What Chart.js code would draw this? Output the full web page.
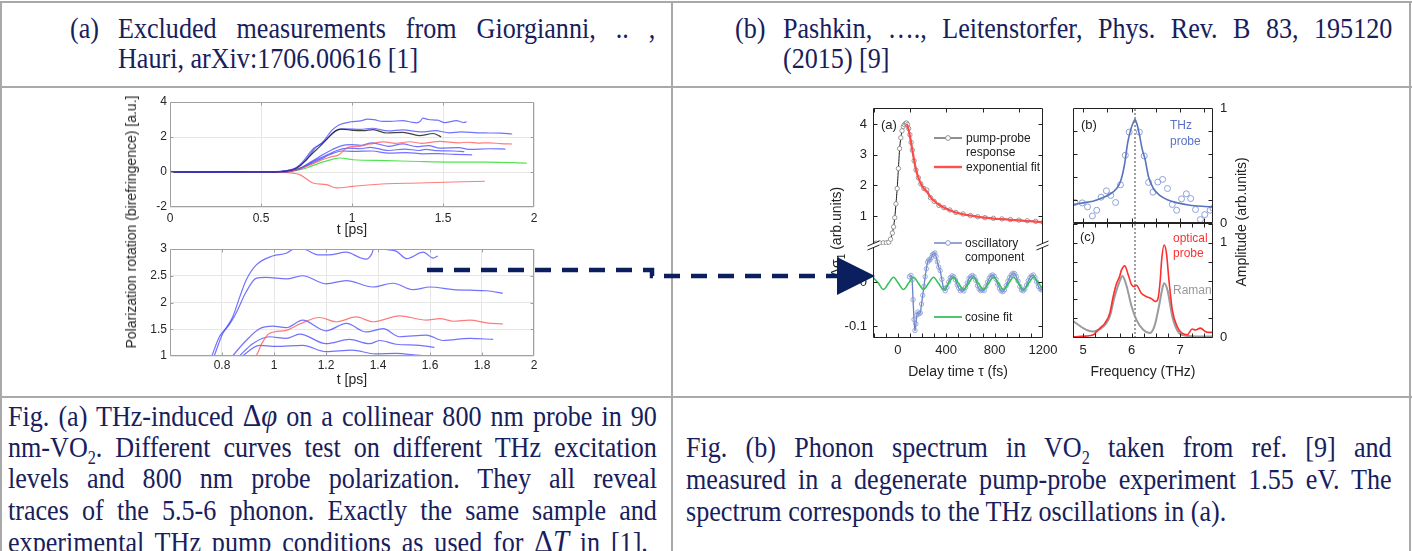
<!DOCTYPE html>
<html>
<head>
<meta charset="utf-8">
<script src="https://cdn.jsdelivr.net/npm/chart.js@4.4.1/dist/chart.umd.min.js"></script>
<style>
html, body { margin: 0; padding: 0; background: #fff; }
#page { position: relative; width: 1412px; height: 551px; overflow: hidden; background: #fff; }
#page canvas { position: absolute; }
.rule { position: absolute; background: #a9a9a9; }
.tx { position: absolute; font-family: 'Liberation Serif', 'Times New Roman', serif; font-size: 29px; line-height: 30px;
      color: #17205c; white-space: nowrap; transform-origin: 0 50%; transform: scaleX(0.9); }
.j { white-space: normal; text-align: justify; text-align-last: justify; }
.m { font-size: 32px; }
.sb { font-size: 18px; position: relative; top: 7px; line-height: 0; }
.an { position: absolute; font-family: 'Liberation Sans', Arial, sans-serif; font-size: 12px; line-height: 14px;
      color: #222; white-space: nowrap; transform: translateY(-50%); }
.rot { position: absolute; font-family: 'Liberation Sans', Arial, sans-serif; font-size: 14px; line-height: 16px;
       color: #222; white-space: nowrap; transform: translate(-50%, -50%) rotate(-90deg); }
#ov { position: absolute; left: 0; top: 0; }
</style>
</head>
<body>
<div id="page">
  <div class="rule" style="left:0;top:1px;width:1412px;height:2px"></div>
  <div class="rule" style="left:0;top:86px;width:1412px;height:2px"></div>
  <div class="rule" style="left:0;top:396px;width:1412px;height:2px"></div>
  <div class="rule" style="left:0;top:1px;width:2px;height:550px"></div>
  <div class="rule" style="left:671px;top:1px;width:2px;height:550px"></div>
  <div class="rule" style="left:1409px;top:1px;width:2px;height:550px"></div>

  <div class="tx" style="left:70px;top:13px">(a)</div>
  <div class="tx j" style="left:118px;top:13px;width:597px">Excluded measurements from Giorgianni, .. ,</div>
  <div class="tx" style="left:118px;top:43px">Hauri, arXiv:1706.00616 [1]</div>
  <div class="tx" style="left:735px;top:13px">(b)</div>
  <div class="tx j" style="left:783px;top:13px;width:677px">Pashkin, …., Leitenstorfer, Phys. Rev. B 83, 195120</div>
  <div class="tx" style="left:783px;top:43px">(2015) [9]</div>

  <div class="tx j" style="left:8px;top:400px;width:721px">Fig. (a) THz-induced <span class="m">Δ<i>φ</i></span> on a collinear 800 nm probe in 90</div>
  <div class="tx j" style="left:8px;top:432px;width:721px">nm-VO<span class="sb">2</span>. Different curves test on different THz excitation</div>
  <div class="tx j" style="left:8px;top:463px;width:721px">levels and 800 nm probe polarization. They all reveal</div>
  <div class="tx j" style="left:8px;top:495px;width:721px">traces of the 5.5-6 phonon. Exactly the same sample and</div>
  <div class="tx j" style="left:8px;top:526px;width:711px">experimental THz pump conditions as used for <span class="m">Δ<i>T</i></span> in [1].</div>
  <div class="tx j" style="left:686px;top:432px;width:784px">Fig. (b) Phonon spectrum in VO<span class="sb">2</span> taken from ref. [9] and</div>
  <div class="tx j" style="left:686px;top:464px;width:784px">measured in a degenerate pump-probe experiment 1.55 eV. The</div>
  <div class="tx" style="left:686px;top:496px">spectrum corresponds to the THz oscillations in (a).</div>

  <canvas id="cL1"></canvas>
  <canvas id="cL2"></canvas>
  <canvas id="cAU"></canvas>
  <canvas id="cAL"></canvas>
  <canvas id="cB"></canvas>
  <canvas id="cC"></canvas>

  <div class="rot" style="left:131px;top:222px;color:#262626">Polarization rotation (birefringence) [a.u.]</div>
  <div class="rot" style="left:839px;top:232px">Δσ<sub style="font-size:10px">1</sub> (arb.units)</div>
  <div class="rot" style="left:1241px;top:222px">Amplitude (arb.units)</div>

  <div class="an" style="left:881px;top:125px;font-size:13px">(a)</div>
  <div class="an" style="left:966px;top:138px">pump-probe</div>
  <div class="an" style="left:966px;top:152px">response</div>
  <div class="an" style="left:966px;top:167px">exponential fit</div>
  <div class="an" style="left:965px;top:243px">oscillatory</div>
  <div class="an" style="left:965px;top:257px">component</div>
  <div class="an" style="left:965px;top:317px">cosine fit</div>
  <div class="an" style="left:1081px;top:125px;font-size:13px">(b)</div>
  <div class="an" style="left:1170px;top:125px;color:#5b73c4">THz</div>
  <div class="an" style="left:1170px;top:141px;color:#5b73c4">probe</div>
  <div class="an" style="left:1080px;top:237px;font-size:13px">(c)</div>
  <div class="an" style="left:1173px;top:238px;color:#ff3030">optical</div>
  <div class="an" style="left:1173px;top:253px;color:#ff3030">probe</div>
  <div class="an" style="left:1173px;top:290px;color:#999">Raman</div>

  <svg id="ov" width="1412" height="551">
    <line x1="934" y1="138" x2="962" y2="138" stroke="#333" stroke-width="1.1"/>
    <circle cx="948" cy="138" r="2.4" fill="#fff" stroke="#888" stroke-width="0.9"/>
    <line x1="934" y1="167" x2="962" y2="167" stroke="#ff5050" stroke-width="2.4"/>
    <line x1="934" y1="243" x2="962" y2="243" stroke="#6f86c8" stroke-width="1.5"/>
    <circle cx="948" cy="243" r="2.4" fill="#fff" stroke="#7d93d2" stroke-width="0.9"/>
    <line x1="934" y1="317" x2="962" y2="317" stroke="#3fc05e" stroke-width="1.8"/>
    <path d="M427,270 H652 V276 H838" fill="none" stroke="#0b1f5e" stroke-width="4.5" stroke-dasharray="16 11"/>
    <polygon points="837,257 875,276 837,295" fill="#0b1f5e"/>
  </svg>
</div>

<script>
// ---- (a) left: polarization rotation traces, [t (ps), rotation (a.u.)]
const traceBlue1 = [[0,0],[0.15,0.02],[0.3,-0.01],[0.45,0.01],[0.58,0.02],[0.64,0.08],[0.68,0.18],[0.71,0.38],[0.735,0.65],[0.761,1.0],[0.79,1.36],[0.815,1.52],[0.841,1.73],[0.868,2.1],[0.893,2.42],[0.931,2.7],[0.995,2.87],[1.047,2.92],[1.085,3.02],[1.12,2.99],[1.17,2.89],[1.21,2.89],[1.278,2.94],[1.33,2.84],[1.355,2.81],[1.375,2.9],[1.39,3.08],[1.42,3.0],[1.47,2.96],[1.51,2.82],[1.574,2.94],[1.612,2.83],[1.63,2.87]];
const traceBlue2 = [[0,0],[0.2,-0.02],[0.4,0.01],[0.58,0.01],[0.64,0.07],[0.68,0.16],[0.71,0.36],[0.74,0.62],[0.77,1.0],[0.803,1.42],[0.83,1.6],[0.854,1.8],[0.893,2.2],[0.931,2.45],[0.97,2.47],[1.047,2.44],[1.11,2.5],[1.2,2.35],[1.278,2.41],[1.38,2.29],[1.458,2.36],[1.535,2.24],[1.6,2.29],[1.69,2.24],[1.75,2.23],[1.818,2.22],[1.88,2.17]];
const traceBlack = [[0,0],[0.25,0.01],[0.5,0],[0.6,0.02],[0.65,0.08],[0.69,0.2],[0.72,0.4],[0.75,0.7],[0.786,1.1],[0.823,1.45],[0.87,1.98],[0.91,2.35],[0.942,2.45],[1.006,2.38],[1.06,2.36],[1.116,2.42],[1.19,2.23],[1.28,2.27],[1.37,2.08],[1.446,2.2],[1.49,2.0]];
const traceRed1 = [[0,0],[0.3,0.01],[0.6,0],[0.66,0.04],[0.72,0.2],[0.78,0.45],[0.83,0.68],[0.88,0.85],[0.931,1.0],[0.955,1.25],[0.982,1.42],[1.047,1.48],[1.1,1.6],[1.175,1.72],[1.24,1.64],[1.317,1.73],[1.38,1.64],[1.483,1.75],[1.586,1.67],[1.638,1.7],[1.69,1.65],[1.753,1.67],[1.818,1.62],[1.88,1.6]];
const traceBlue3 = [[0,0],[0.35,0.01],[0.6,0],[0.66,0.05],[0.72,0.25],[0.77,0.55],[0.81,0.8],[0.841,1.0],[0.893,1.29],[0.944,1.51],[0.995,1.56],[1.047,1.53],[1.11,1.67],[1.2,1.47],[1.278,1.61],[1.355,1.45],[1.42,1.51],[1.483,1.36],[1.586,1.39],[1.65,1.29],[1.753,1.33],[1.843,1.31]];
const traceBlue4 = [[0,0],[0.6,0],[0.66,0.05],[0.72,0.22],[0.77,0.5],[0.82,0.78],[0.867,1.0],[0.918,1.23],[0.982,1.36],[1.047,1.33],[1.1,1.41],[1.2,1.23],[1.29,1.31],[1.368,1.23],[1.406,1.29],[1.47,1.22],[1.56,1.2],[1.617,1.16]];
const traceBlue5 = [[0,0],[0.6,0],[0.66,0.04],[0.72,0.2],[0.78,0.5],[0.83,0.75],[0.88,1.0],[0.944,1.2],[1.008,1.18],[1.11,1.2],[1.2,1.08],[1.3,1.11],[1.39,1.04],[1.47,1.05],[1.56,1.01],[1.66,0.98]];
const traceGreen = [[0,0],[0.6,0],[0.68,0.06],[0.75,0.23],[0.82,0.51],[0.896,0.74],[0.933,0.8],[1.006,0.7],[1.19,0.65],[1.37,0.6],[1.556,0.57],[1.74,0.57],[1.96,0.51]];
const traceRed2 = [[0,0],[0.3,-0.01],[0.6,0],[0.66,-0.05],[0.713,-0.15],[0.75,-0.4],[0.786,-0.63],[0.86,-0.72],[0.915,-0.91],[1.006,-0.82],[1.19,-0.67],[1.37,-0.63],[1.556,-0.57],[1.73,-0.53]];

// ---- (b) right, panel (a): pump-probe response vs delay time (fs)
const ppTime = [-205,-180,-150,-120,-95,-75,-60,-45,-35,-25,-15,-5,5,15,25,35,45,55,65,72,80,90,100,110,120,135,150,170,190,215,240,270,300,340,380,430,480,540,600,660,720,790,860,930,1000,1070,1140,1200];
const ppSignal = [0.12,0.12,0.13,0.13,0.13,0.15,0.25,0.45,0.65,0.95,1.4,1.9,2.55,3.2,3.55,3.78,3.92,3.98,4.02,4.03,3.98,3.85,3.65,3.4,3.15,2.8,2.5,2.25,2.05,1.9,1.85,1.6,1.48,1.35,1.28,1.2,1.12,1.07,1.02,0.98,0.95,0.93,0.91,0.89,0.87,0.85,0.83,0.8];
const expTime = [72,80,90,100,110,120,135,150,170,190,215,240,270,300,340,380,430,480,540,600,660,720,790,860,930,1000,1070,1140,1200];
const expFit = [4.0,3.95,3.8,3.6,3.38,3.15,2.82,2.52,2.25,2.06,1.9,1.8,1.62,1.5,1.37,1.28,1.19,1.12,1.06,1.02,0.98,0.95,0.92,0.9,0.88,0.86,0.84,0.82,0.8];
const oscTime = [96,108,118,126,134,142,150,158,166,176,186,196,206,216,226,236,246,256,266,276,286,296,306,316,326,338,350,364,378,392,406,420,434,448,462,476,490,504,518,532,546,560,574,588,602,616,630,644,658,672,686,700,714,728,742,756,770,784,798,812,826,840,854,868,882,896,910,924,938,952,966,980,994,1008,1022,1036,1050,1064,1078,1092,1106,1120,1134,1148,1162,1176,1190,1200];
const oscSignal = [0.012,0.015,0.005,-0.04,-0.085,-0.11,-0.095,-0.075,-0.068,-0.072,-0.07,-0.05,-0.03,-0.01,0.012,0.03,0.045,0.05,0.05,0.055,0.062,0.064,0.066,0.058,0.046,0.034,0.026,0.006,-0.014,-0.02,-0.012,0.0,0.01,0.014,0.012,0.005,-0.006,-0.014,-0.02,-0.017,-0.02,-0.012,-0.002,0.008,0.012,0.015,0.012,0.004,-0.008,-0.016,-0.02,-0.018,-0.019,-0.01,0.0,0.009,0.014,0.016,0.013,0.006,-0.005,-0.014,-0.02,-0.022,-0.018,-0.008,0.002,0.01,0.016,0.02,0.019,0.012,0.002,-0.01,-0.018,-0.02,-0.016,-0.007,0.003,0.01,0.014,0.016,0.01,0.0,-0.01,-0.016,-0.018,-0.016];
const cosTime = [-205,-160,-119,-77,-36,5,47,88,130,171,212,254,295,336,378,419,461,502,543,585,626,667,709,750,792,833,874,916,957,998,1040,1081,1123,1164,1200];
const cosFit = [0.011,-0.003,-0.017,-0.003,0.011,-0.003,-0.017,-0.003,0.011,-0.003,-0.017,-0.003,0.011,-0.003,-0.017,-0.003,0.011,-0.003,-0.017,-0.003,0.011,-0.003,-0.017,-0.003,0.011,-0.003,-0.017,-0.003,0.011,-0.003,-0.017,-0.003,0.011,-0.003,-0.016];
const delayTicks = [0, 400, 800, 1200];

// ---- panel (b): THz probe spectrum; panel (c): optical probe and Raman
const thzFreq = [4.83,4.98,5.09,5.19,5.28,5.37,5.48,5.57,5.67,5.77,5.87,5.95,6.16,6.26,6.35,6.44,6.54,6.64,6.74,6.84,6.93,7.03,7.13,7.22,7.32,7.42,7.51,7.62,7.68];
const thzAmp = [0.178,0.175,0.14,0.061,0.111,0.225,0.28,0.24,0.178,0.332,0.589,0.79,0.79,0.583,0.353,0.268,0.356,0.379,0.3,0.161,0.111,0.21,0.254,0.213,0.117,0.03,0.073,0.111,0.128];
const thzFitFreq = [4.79,5.0,5.2,5.4,5.55,5.69,5.77,5.85,5.92,5.98,6.03,6.07,6.11,6.16,6.22,6.28,6.35,6.45,6.58,6.75,6.95,7.2,7.45,7.68];
const thzFitAmp = [0.16,0.175,0.19,0.22,0.25,0.3,0.36,0.5,0.7,0.81,0.87,0.9,0.86,0.77,0.64,0.55,0.4,0.3,0.24,0.2,0.175,0.155,0.145,0.14];
const optFreq = [4.79,4.9,5.05,5.21,5.3,5.35,5.45,5.55,5.62,5.69,5.75,5.79,5.86,5.93,6.0,6.05,6.1,6.2,6.3,6.4,6.5,6.55,6.59,6.62,6.67,6.72,6.77,6.84,6.94,7.04,7.15,7.25,7.32,7.42,7.52,7.6,7.68];
const optAmp = [0.0,0.005,0.01,0.024,0.07,0.095,0.148,0.254,0.43,0.57,0.64,0.71,0.755,0.66,0.553,0.535,0.55,0.465,0.43,0.41,0.377,0.42,0.6,0.817,0.976,0.888,0.606,0.289,0.112,0.042,0.025,0.085,0.075,0.095,0.06,0.05,0.05];
const ramanFreq = [4.79,4.9,5.0,5.1,5.21,5.31,5.41,5.48,5.55,5.65,5.75,5.81,5.89,6.0,6.1,6.24,6.37,6.47,6.57,6.62,6.67,6.74,6.84,6.98,7.12,7.39,7.68];
const ramanAmp = [0.17,0.13,0.095,0.07,0.06,0.075,0.11,0.15,0.218,0.43,0.588,0.648,0.553,0.324,0.183,0.077,0.042,0.113,0.341,0.48,0.571,0.5,0.218,0.042,0.014,0.007,0.007];
const phononTHz = 6.07;
const freqTicks = [5, 6, 7];

Chart.defaults.font.family = "'Liberation Sans', Arial, sans-serif";
Chart.defaults.color = '#222';

const pairs = arr => arr.map(p => ({x: p[0], y: p[1]}));
const xy = (xs, ys) => xs.map((x, i) => ({x: x, y: ys[i]}));
const fmt = v => String(Math.round(v * 1000) / 1000);
const only = list => v => list.some(t => Math.abs(t - v) < 1e-6) ? fmt(v) : '';
// fixed tick grid (chart.js otherwise stretches the step to fit min..max)
const evenTicks = (from, to, step) => s => {
    const t = [];
    for (let v = from; v <= to + 1e-9; v += step) t.push({ value: Math.round(v * 1000) / 1000 });
    s.ticks = t;
};

// frame, inward ticks and axis break marks
const boxPlugin = {
    id: 'box',
    afterDatasetsDraw(chart, args, o) {
        if (!o || !o.color) return;
        const {ctx, chartArea: a} = chart;
        const L = Math.round(a.left) + 0.5, R = Math.round(a.right) - 0.5;
        const T = Math.round(a.top) + 0.5, B = Math.round(a.bottom) - 0.5;
        const s = o.sides, k = o.tick || 0;
        ctx.save();
        ctx.strokeStyle = o.color;
        ctx.lineWidth = 1;
        ctx.beginPath();
        if (s.includes('t')) { ctx.moveTo(L, T); ctx.lineTo(R, T); }
        if (s.includes('b')) { ctx.moveTo(L, B); ctx.lineTo(R, B); }
        if (s.includes('l')) { ctx.moveTo(L, T); ctx.lineTo(L, B); }
        if (s.includes('r')) { ctx.moveTo(R, T); ctx.lineTo(R, B); }
        if (k) {
            const xs = chart.scales.x, ys = chart.scales.y;
            xs.ticks.forEach(t => {
                const p = Math.round(xs.getPixelForValue(t.value)) + 0.5;
                if (p < L + 1 || p > R - 1) return;
                if (s.includes('b')) { ctx.moveTo(p, B); ctx.lineTo(p, B - k); }
                if (s.includes('t')) { ctx.moveTo(p, T); ctx.lineTo(p, T + k); }
            });
            ys.ticks.forEach(t => {
                const p = Math.round(ys.getPixelForValue(t.value)) + 0.5;
                if (p < T + 1 || p > B - 1) return;
                if (s.includes('l')) { ctx.moveTo(L, p); ctx.lineTo(L + k, p); }
                if (s.includes('r')) { ctx.moveTo(R, p); ctx.lineTo(R - k, p); }
            });
        }
        ctx.stroke();
        if (o.brk) {
            const y = a.top;
            [L, R].forEach(x => {
                ctx.fillStyle = '#fff';
                ctx.beginPath();
                ctx.moveTo(x - 6, y + 1); ctx.lineTo(x + 6, y - 4); ctx.lineTo(x + 6, y); ctx.lineTo(x - 6, y + 5);
                ctx.closePath();
                ctx.fill();
                ctx.beginPath();
                ctx.moveTo(x - 6, y + 1); ctx.lineTo(x + 6, y - 4);
                ctx.moveTo(x - 6, y + 5); ctx.lineTo(x + 6, y);
                ctx.stroke();
            });
        }
        ctx.restore();
    }
};

function makeChart(id, area, m, datasets, scales, box) {
    const c = document.getElementById(id);
    c.width = area[2] - area[0] + m.l + m.r;
    c.height = area[3] - area[1] + m.t + m.b;
    c.style.left = (area[0] - m.l) + 'px';
    c.style.top = (area[1] - m.t) + 'px';
    return new Chart(c, {
        type: 'line',
        data: { datasets: datasets },
        options: {
            responsive: false,
            animation: false,
            devicePixelRatio: 1,
            events: [],
            layout: { padding: {
                left: scales.y.display === false ? m.l : 0,
                top: m.t,
                right: scales.y2 ? 0 : m.r,
                bottom: scales.x.display === false ? m.b : 0
            } },
            plugins: { legend: { display: false }, tooltip: { enabled: false }, box: box },
            scales: scales
        },
        plugins: [boxPlugin]
    });
}

function line(data, color, width, extra) {
    return Object.assign({ data: data, borderColor: color, borderWidth: width, pointRadius: 0,
        fill: false, cubicInterpolationMode: 'monotone' }, extra || {});
}

// ---------- left column: MATLAB style plots
const gridGray = '#e6e6e6';
const matTicks = { color: '#262626', font: { size: 12 }, autoSkip: false, includeBounds: false, maxRotation: 0, minRotation: 0 };
const blueLine = 'rgba(60,60,255,0.72)', redLine = 'rgba(255,80,80,0.75)';

makeChart('cL1', [170, 102, 534, 207], { l: 60, t: 14, r: 12, b: 35 }, [
    line(pairs(traceBlue1), blueLine, 1.2),
    line(pairs(traceBlack), 'rgba(20,20,20,0.8)', 1.2),
    line(pairs(traceBlue2), blueLine, 1.2),
    line(pairs(traceRed1), redLine, 1.2),
    line(pairs(traceBlue3), blueLine, 1.2),
    line(pairs(traceBlue4), blueLine, 1.2),
    line(pairs(traceBlue5), blueLine, 1.2),
    line(pairs(traceGreen), 'rgba(40,220,40,0.8)', 1.2),
    line(pairs(traceRed2), redLine, 1.2)
], {
    x: { type: 'linear', min: 0, max: 2, afterFit: s => { s.height = 35; },
         grid: { color: gridGray, drawTicks: false }, border: { display: false },
         ticks: Object.assign({ stepSize: 0.5, padding: 4, callback: fmt }, matTicks),
         title: { display: true, text: 't [ps]', color: '#262626', font: { size: 14 }, padding: { top: 0, bottom: 3.6 } } },
    y: { min: -2, max: 4, afterFit: s => { s.width = 60; },
         grid: { color: gridGray, drawTicks: false }, border: { display: false },
         ticks: Object.assign({ stepSize: 2, padding: 3, callback: fmt }, matTicks) }
}, { color: '#a0a0a0', sides: 'tblr', tick: 3 });

makeChart('cL2', [170, 249, 534, 356], { l: 60, t: 14, r: 12, b: 36 }, [
    line(pairs(traceBlue1), blueLine, 1.2),
    line(pairs(traceBlue2), blueLine, 1.2),
    line(pairs(traceRed1), redLine, 1.2),
    line(pairs(traceBlue3), blueLine, 1.2),
    line(pairs(traceBlue4), blueLine, 1.2),
    line(pairs(traceBlue5), blueLine, 1.2)
], {
    x: { type: 'linear', min: 0.6, max: 2, afterFit: s => { s.height = 36; },
         grid: { color: gridGray, drawTicks: false }, border: { display: false },
         ticks: Object.assign({ stepSize: 0.2, padding: 2, callback: v => Math.abs(v - 0.6) < 1e-6 ? '' : fmt(v) }, matTicks),
         title: { display: true, text: 't [ps]', color: '#262626', font: { size: 14 }, padding: { top: 0, bottom: 3.6 } } },
    y: { min: 1, max: 3, afterFit: s => { s.width = 60; },
         grid: { color: gridGray, drawTicks: false }, border: { display: false },
         ticks: Object.assign({ stepSize: 0.5, padding: 3, callback: fmt }, matTicks) }
}, { color: '#a0a0a0', sides: 'tblr', tick: 3 });

// ---------- right column: Pashkin et al. figure
const sciTicks = { color: '#222', font: { size: 13 }, autoSkip: false, includeBounds: false, maxRotation: 0, minRotation: 0 };
const noGrid = { display: false, drawTicks: false };

makeChart('cAU', [873, 108, 1043, 245], { l: 34, t: 18, r: 14, b: 18 }, [
    line(xy(expTime, expFit), '#ff4a4a', 2.2),
    line(xy(ppTime, ppSignal), '#1a1a1a', 1, { pointRadius: 2.2, pointBorderWidth: 0.8,
        pointBorderColor: '#808080', pointBackgroundColor: '#fff', cubicInterpolationMode: 'default', tension: 0.2 })
], {
    x: { type: 'linear', display: false, min: -205, max: 1200, afterBuildTicks: evenTicks(-200, 1200, 100) },
    y: { min: 0.06, max: 4.52, afterFit: s => { s.width = 34; }, grid: noGrid, border: { display: false },
         ticks: Object.assign({ stepSize: 1, padding: 6, callback: fmt }, sciTicks) }
}, { color: '#222', sides: 'tlr', tick: 4 });

makeChart('cAL', [873, 245, 1043, 338], { l: 34, t: 18, r: 22, b: 44 }, [
    line(xy(cosTime, cosFit), '#35c25a', 1.6),
    line(xy(oscTime, oscSignal), '#6a82c6', 1.3, { pointRadius: 2.2, pointBorderWidth: 0.8,
        pointBorderColor: '#8397d4', pointBackgroundColor: 'rgba(255,255,255,0)', cubicInterpolationMode: 'default', tension: 0.2 })
], {
    x: { type: 'linear', min: -205, max: 1200, afterFit: s => { s.height = 44; }, grid: noGrid, border: { display: false },
         afterBuildTicks: evenTicks(-200, 1200, 100),
         ticks: Object.assign({ padding: 5, callback: only(delayTicks) }, sciTicks),
         title: { display: true, text: 'Delay time τ (fs)', color: '#222', font: { size: 14 }, padding: { top: 0, bottom: 1.9 } } },
    y: { min: -0.127, max: 0.084, afterFit: s => { s.width = 34; }, grid: noGrid, border: { display: false },
         ticks: Object.assign({ stepSize: 0.1, padding: 6, callback: fmt }, sciTicks) }
}, { color: '#222', sides: 'blr', tick: 4, brk: true });

makeChart('cB', [1073, 108, 1213, 223], { l: 12, t: 18, r: 20, b: 18 }, [
    line(xy(thzFitFreq, thzFitAmp), '#5874c0', 1.6),
    { data: xy(thzFreq, thzAmp), showLine: false, pointRadius: 3, pointBorderWidth: 1,
      pointBorderColor: '#8ea0da', pointBackgroundColor: 'rgba(255,255,255,0)' },
    line([{ x: phononTHz, y: 0 }, { x: phononTHz, y: 1 }], '#444', 1, { borderDash: [2, 2], cubicInterpolationMode: 'default' })
], {
    x: { type: 'linear', display: false, min: 4.79, max: 7.68, afterBuildTicks: evenTicks(5, 7.5, 0.25) },
    y: { display: false, min: 0, max: 1, afterBuildTicks: evenTicks(0, 1, 0.2) },
    y2: { axis: 'y', position: 'right', min: 0, max: 1, afterFit: s => { s.width = 20; }, grid: noGrid, border: { display: false },
          ticks: Object.assign({ stepSize: 1, padding: 7, callback: fmt }, sciTicks) }
}, { color: '#222', sides: 'tblr', tick: 4 });

makeChart('cC', [1073, 223, 1213, 338], { l: 12, t: 18, r: 20, b: 44 }, [
    line(xy(optFreq, optAmp), '#ff2d2d', 1.6),
    line(xy(ramanFreq, ramanAmp), '#9b9b9b', 2),
    line([{ x: phononTHz, y: -0.01 }, { x: phononTHz, y: 1.21 }], '#444', 1, { borderDash: [2, 2], cubicInterpolationMode: 'default' })
], {
    x: { type: 'linear', min: 4.79, max: 7.68, afterFit: s => { s.height = 44; }, grid: noGrid, border: { display: false },
         afterBuildTicks: evenTicks(5, 7.5, 0.25),
         ticks: Object.assign({ padding: 5, callback: only(freqTicks) }, sciTicks),
         title: { display: true, text: 'Frequency (THz)', color: '#222', font: { size: 14 }, padding: { top: 0, bottom: 1.9 } } },
    y: { display: false, min: -0.01, max: 1.21, afterBuildTicks: evenTicks(0, 1.2, 0.2) },
    y2: { axis: 'y', position: 'right', min: -0.01, max: 1.21, afterBuildTicks: evenTicks(0, 1, 1),
          afterFit: s => { s.width = 20; }, grid: noGrid, border: { display: false },
          ticks: Object.assign({ padding: 7, callback: fmt }, sciTicks) }
}, { color: '#222', sides: 'tblr', tick: 4 });
</script>
</body>
</html>
